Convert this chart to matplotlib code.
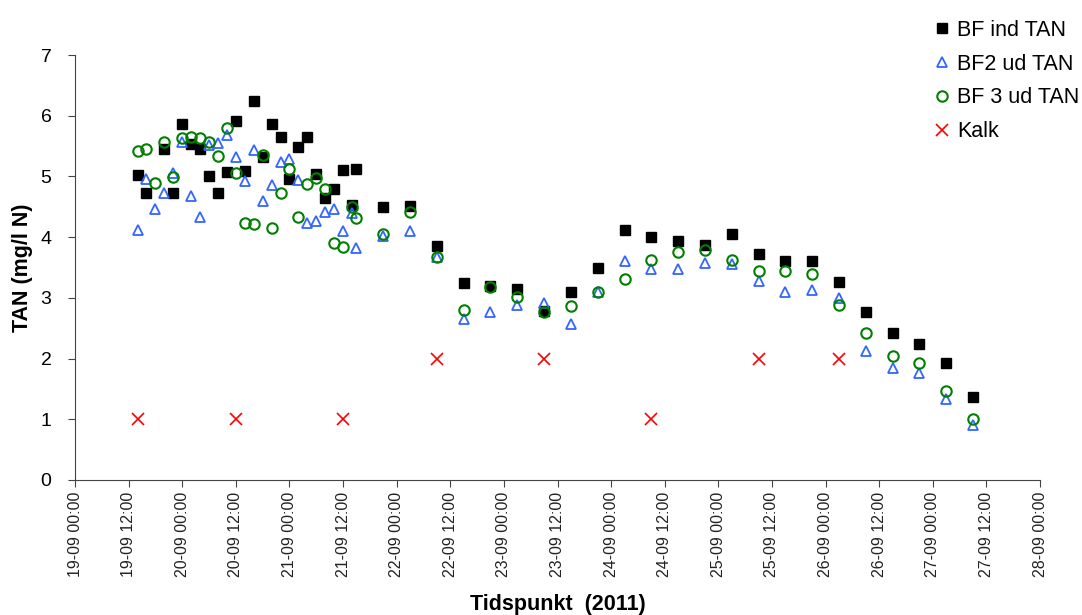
import matplotlib
matplotlib.use("Agg")
import matplotlib.pyplot as plt
import matplotlib.dates as mdates
import numpy as np
from datetime import datetime, timedelta

plt.rcParams['font.family'] = ['Liberation Sans', 'DejaVu Sans']

start = datetime(2011, 9, 19, 0, 0)

# hours since 19-09-2011 00:00
hours = [14, 16, 18, 20, 22, 24, 26, 28, 30, 32, 34, 36, 38, 40, 42, 44, 46, 48, 50,
         52, 54, 56, 58, 60, 62, 63,
         69, 75, 81, 87, 93, 99, 105, 111, 117, 123, 129, 135, 141, 147, 153, 159,
         165, 171, 177, 183, 189, 195, 201]

bf_ind = [5.02, 4.73, np.nan, 5.46, 4.73, 5.86, 5.53, 5.46, 5.00, 4.73, 5.07, 5.91, 5.09,
          6.25, 5.32, 5.86, 5.65, 4.95, 5.49, 5.65, 5.04, 4.64, 4.79, 5.11, 4.53, 5.12,
          4.50, 4.51, 3.86, 3.24, 3.20, 3.14, 2.78, 3.09, 3.49, 4.12, 4.01, 3.94, 3.87,
          4.05, 3.73, 3.60, 3.60, 3.26, 2.76, 2.42, 2.24, 1.92, 1.36]

bf2_ud = [4.12, 4.95, 4.47, 4.72, 5.05, 5.56, 4.67, 4.34, 5.52, 5.55, 5.68, 5.32, 4.92,
          5.44, 4.60, 4.86, 5.23, 5.28, 4.94, 4.24, 4.26, 4.42, 4.47, 4.10, 4.39, 3.82,
          4.02, 4.10, 3.68, 2.65, 2.77, 2.89, 2.91, 2.57, 3.09, 3.60, 3.47, 3.48, 3.58,
          3.56, 3.28, 3.09, 3.13, 2.99, 2.12, 1.85, 1.77, 1.33, 0.91]

bf3_ud = [5.42, 5.45, 4.90, 5.57, 4.99, 5.64, 5.65, 5.64, 5.57, 5.33, 5.79, 5.05, 4.24,
          4.22, 5.36, 4.15, 4.72, 5.13, 4.34, 4.87, 4.97, 4.79, 3.90, 3.84, 4.49, 4.31,
          4.06, 4.42, 3.68, 2.80, 3.18, 3.02, 2.76, 2.87, 3.09, 3.31, 3.63, 3.76, 3.79,
          3.63, 3.44, 3.45, 3.39, 2.88, 2.42, 2.05, 1.92, 1.47, 1.00]

kalk_hours = [14, 36, 60, 81, 105, 129, 153, 171]
kalk = [1, 1, 1, 2, 2, 1, 2, 2]

series_names = ["BF ind TAN", "BF2 ud TAN", "BF 3 ud TAN", "Kalk"]

t = [start + timedelta(hours=h) for h in hours]
tk = [start + timedelta(hours=h) for h in kalk_hours]

fig = plt.figure(figsize=(10.82, 6.15), dpi=100)
ax = fig.add_axes([75/1082, 1-480/615, (1040-75)/1082, (480-55)/615])

ax.plot(t, bf_ind, ls='none', marker='s', ms=6.5, mfc='black', mec='black',
        label=series_names[0], zorder=3)
ax.plot(t, bf2_ud, ls='none', marker='^', ms=7.5, mfc='none', mec='#3366FF',
        mew=1.3, label=series_names[1], zorder=4)
ax.plot(t, bf3_ud, ls='none', marker='o', ms=7.5, mfc='none', mec='#008000',
        mew=1.5, label=series_names[2], zorder=5)
ax.plot(tk, kalk, ls='none', marker='x', ms=9, mec='#FF0000', mew=1.2,
        label=series_names[3], zorder=6)

ax.set_xlim(start, start + timedelta(days=9))
ax.set_ylim(0, 7)
ax.set_yticks(range(0, 8))
ax.xaxis.set_major_locator(mdates.HourLocator(byhour=[0, 12]))
ax.xaxis.set_major_formatter(mdates.DateFormatter('%d-%m %H:%M'))
for lab in ax.get_xticklabels():
    lab.set_rotation(90)

ax.tick_params(axis='x', labelsize=11.5, length=5, direction='out', color='#444444',
               labelcolor='#222222')
ax.tick_params(axis='y', labelsize=14, length=5, direction='out', color='#444444',
               pad=12)
ax.spines['top'].set_visible(False)
ax.spines['right'].set_visible(False)
ax.spines['left'].set_color('#444444')
ax.spines['bottom'].set_color('#444444')

ax.set_ylabel("TAN (mg/l N)", fontsize=15.5, fontweight='bold')
ax.yaxis.set_label_coords(-0.044, 0.5)
ax.set_xlabel("Tidspunkt  (2011)", fontsize=15.5, fontweight='bold', labelpad=12)

fig.legend(loc='upper left', bbox_to_anchor=(925/1082, 1-11/615), frameon=False,
           fontsize=15.5, labelspacing=0.6, handlelength=0.8, handletextpad=0.3,
           borderaxespad=0)

fig.savefig("out.png", dpi=100)
